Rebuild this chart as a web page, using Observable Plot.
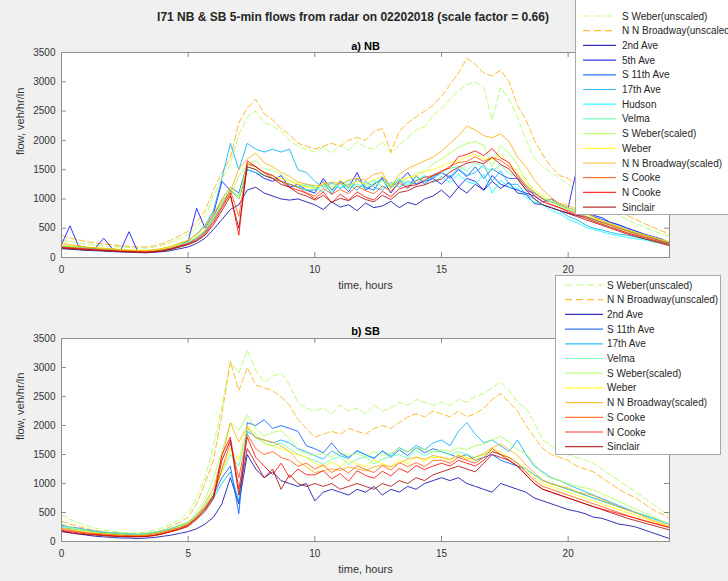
<!DOCTYPE html>
<html>
<head>
<meta charset="utf-8">
<script src="https://cdn.jsdelivr.net/npm/d3@7"></script>
<script src="https://cdn.jsdelivr.net/npm/@observablehq/plot@0.6"></script>
<style>
  html, body { margin: 0; padding: 0; background: #f0f0f0; }
  #fig { position: relative; width: 728px; height: 581px; background: #f0f0f0; overflow: hidden;
         font-family: "Liberation Sans", Arial, Helvetica, sans-serif; color: #262626; }
  #title { position: absolute; left: 0; width: 706px; top: 9px; text-align: center;
           font-weight: bold; font-size: 12px; line-height: 16px; }
</style>
</head>
<body>
<div id="fig">
  <div id="title">I71 NB &amp; SB 5-min flows from radar on 02202018 (scale factor = 0.66)</div>
</div>
<script>
// Radar flows (veh/hr/ln), one value every 20 minutes from 0 h to 24 h.
const scaleFactor = 0.66;
const hours = d3.range(73).map(i => i / 3);
const xTicks = [0, 5, 10, 15, 20];
const yTicks = [0, 500, 1000, 1500, 2000, 2500, 3000, 3500];

// ---- Northbound ----
const nbSWeberRaw = [300,270,250,230,210,200,190,180,170,160,160,180,210,260,320, 400,520,700,1050,1350,1600, 2100, 2400,2500,2300,2250,2150,2000,1900,1850, 1800,1880,1780,1920,1830,1980,1880,1850,1980,1780,1920,2050,2180,2230,2420, 2550,2700,2850,2950,3000,2900,2350,2900,2700,2400,2000,1700, 1550,1450,1350,1250,1150,1050,950,880,800,720,650,580,520,460,410,360];
const nbNNBroadwayRaw = [380,330,300,270,250,230,220,200,190,180,180,200,240,300,370, 450,600,800,1150,1450,1700, 2300, 2550,2700,2450,2350,2200,2100,1950,1900, 1850,1900,1950,1900,2000,2050,2000,2150,2200,1800,2150,2300,2400,2500,2600, 2750,2950,3150,3400,3300,3150,3100,3200,3000,2600,2350,2000, 1750,1550,1400,1350,1250,1150,1050,950,880,800,720,650,580,520,460,400];
const nb2ndAve = [150,140,130,120,115,110,100,95,90,85,80,90,100,120,150, 180,240,330,480,650,820, 900, 1150,1200,1100,1050,1000,980,1000,950, 900,820,950,860,900,800,930,850,880,960,850,940,900,1000,1050, 1150,1020,1200,1100,1250,1150,1300,1180,1280,1100,1080,920, 900,850,800,760,720,700,650,600,560,500,460,420,380,330,280,230];
const nb5thAve = [220,540,200,170,160,330,150,120,440,110,100,120,110,150,200, 280,840,500,750,1300,1150, 1000, 1500,1450,1350,1300,1400,1200,1250,1150, 1100,1350,1150,1300,1200,1450,1150,1250,1350,1100,1300,1450,1250,1300,1350, 1250,1400,1200,1350,1300,1150,1400,1250,1200,1150,1100,1050, 950,1000,900,850,1500,800,720,680,600,560,500,450,400,360,320,260];
const nbS11thAve = [200,180,170,160,150,140,130,125,115,110,105,115,130,160,200, 250,330,450,700,1000,1200, 1100, 1600,1550,1450,1400,1300,1250,1200,1150, 1150,1300,1080,1280,1120,1350,1200,1150,1380,1200,1320,1180,1400,1250,1380, 1450,1350,1500,1380,1550,1350,1520,1420,1350,1350,1150,1100, 1000,950,900,850,800,760,700,650,600,550,500,450,400,350,300,250];
const nb17thAve = [180,170,160,150,140,130,120,110,105,100,100,110,130,170,220, 280,400,550,800,1350,1950, 1500, 1950,1850,1800,1850,1800,1850,1500,1450, 1300,1200,1280,1180,1250,1150,1300,1200,1150,1280,1200,1300,1250,1380,1350, 1450,1380,1520,1400,1450,1580,1300,1480,1250,1250,1080,1000, 900,850,800,700,650,560,500,470,430,400,380,350,320,290,260,230];
const nbHudson = [170,160,150,140,130,125,115,110,100,95,95,100,115,140,180, 230,300,420,650,900,1150, 1000, 1500,1450,1400,1350,1300,1250,1200,1250, 1200,1120,1280,1180,1320,1200,1250,1320,1200,1250,1350,1220,1320,1400,1280, 1380,1280,1420,1300,1250,1420,1100,1320,1200,1180,1020,950, 900,800,750,650,600,520,480,440,400,370,340,320,300,270,250,220];
const nbVelma = [200,190,180,170,160,150,140,130,120,115,110,120,140,170,210, 260,340,460,680,950,1150, 1050, 1550,1500,1400,1350,1300,1250,1200,1150, 1150,1230,1120,1280,1180,1260,1170,1280,1320,1220,1330,1240,1380,1290,1420, 1450,1520,1560,1480,1620,1530,1480,1580,1430,1380,1220,1120, 1000,950,880,820,780,720,660,600,550,500,460,420,380,340,300,260];
const nbWeber = [220,200,190,180,170,160,150,140,130,125,120,130,150,190,240, 300,380,520,750,1000,1200, 1000, 1600,1550,1450,1400,1350,1300,1250,1200, 1180,1280,1200,1330,1220,1310,1250,1330,1380,1240,1320,1370,1390,1470,1500, 1560,1620,1650,1720,1760,1690,1670,1760,1600,1470,1300,1160, 1050,980,900,850,800,750,680,620,570,520,470,430,390,350,310,270];
const nbSCooke = [180,170,160,150,140,130,125,115,110,100,100,110,130,160,200, 240,310,430,640,880,1150, 700, 1600,1550,1450,1350,1300,1250,1200,1100, 1050,1180,1080,1160,1090,1220,1140,1090,1220,1130,1270,1190,1310,1370,1400, 1460,1560,1620,1640,1720,1640,1710,1660,1550,1420,1240,1100, 1000,900,850,800,750,700,650,600,550,500,450,400,360,320,280,240];
const nbNCooke = [170,160,150,140,130,120,115,105,100,95,90,100,115,145,190, 230,290,400,600,850,1100, 380, 1650,1550,1450,1400,1300,1200,1150,1100, 1000,1120,930,1080,980,1120,1030,980,1130,1040,1170,1220,1240,1320,1400, 1480,1530,1720,1760,1820,1740,1860,1700,1620,1380,1200,1060, 950,900,850,780,720,680,620,570,520,470,420,380,340,300,260,220];
const nbSinclair = [160,150,140,130,125,115,110,100,95,90,85,95,110,140,180, 220,280,380,560,800,1050, 500, 1550,1500,1400,1350,1250,1200,1100,1050, 980,1060,940,1010,970,1060,990,950,1060,990,1110,1140,1210,1240,1300, 1340,1460,1540,1610,1640,1600,1710,1590,1510,1340,1160,1000, 900,850,800,750,700,650,600,550,500,450,400,360,320,280,240,200];

// ---- Southbound ----
const sbSWeberRaw = [460,380,320,270,230,200,180,160,150,150,160,190,240,300,380, 500,750,1100,1650,2350,3100, 2900, 3300,2950,2750,2850,2900,2700,2400,2300, 2250,2300,2200,2350,2250,2300,2200,2350,2250,2300,2400,2350,2450,2400,2350, 2400,2350,2450,2400,2500,2550,2650,2750,2600,2400,2300,2050, 1750,1650,1600,1500,1450,1400,1350,1250,1150,1050,950,850,750,650,550,450];
const sbNNBroadwayRaw = [350,300,260,220,190,170,150,140,130,130,140,160,200,260,330, 420,650,1000,1400,2200,3100, 2600, 3000,2700,2650,2600,2500,2350,2100,1950, 1800,1850,1900,1850,1950,1900,1850,1950,2000,1950,2050,2150,2200,2150,2250, 2200,2150,2250,2150,2200,2300,2450,2550,2400,2250,2000,1800, 1600,1500,1450,1400,1300,1250,1200,1100,1000,900,820,750,650,550,480,400];
const sb2ndAve = [180,150,130,110,90,80,70,60,60,50,60,70,90,110,140, 170,220,300,420,650,1100, 650, 1500,1250,1100,1200,1050,1000,950,1000, 700,850,900,850,800,900,850,950,800,900,850,950,900,1000,1050, 1100,1050,1100,1000,950,900,850,1000,950,900,850,750, 700,650,600,550,520,480,420,400,350,300,280,250,200,150,100,50];
const sbS11thAve = [280,250,230,200,180,160,150,140,130,120,130,150,180,220,270, 320,450,600,800,1100,1300, 480, 2050,2000,2100,1950,2000,1950,1900,1650, 1600,1530,1700,1520,1450,1560,1500,1430,1560,1450,1580,1480,1620,1530,1600, 1550,1500,1450,1500,1400,1450,1500,1400,1350,1300,1250,1150, 1050,1000,950,900,850,800,750,700,650,600,550,500,450,400,350,300];
const sb17thAve = [240,220,200,180,160,150,140,130,120,120,130,150,180,210,250, 300,400,550,750,1000,1200, 700, 1900,1800,1750,1700,1750,1700,1600,1550, 1480,1420,1560,1480,1430,1570,1490,1440,1560,1480,1620,1540,1660,1580,1700, 1750,1650,1900,2050,1850,1700,1750,1650,1550,1750,1500,1300, 1200,1100,1050,980,920,860,800,740,680,620,560,500,450,400,350,300];
const sbVelma = [260,240,220,200,180,160,150,140,130,130,140,160,190,230,280, 340,460,620,850,1200,1500, 1300, 1950,1800,1700,1650,1700,1600,1500,1450, 1400,1330,1420,1460,1330,1420,1460,1340,1420,1470,1500,1430,1570,1480,1550, 1550,1500,1550,1500,1450,1500,1550,1500,1450,1350,1250,1150, 1050,1000,950,900,850,800,750,700,650,600,550,500,450,400,350,300];
const sbWeber = [230,210,190,170,150,140,130,120,110,110,120,140,170,210,260, 320,440,600,820,1200,1600, 1400, 2000,1850,1700,1650,1600,1550,1500,1450, 1350,1280,1370,1290,1410,1340,1290,1410,1340,1290,1410,1340,1460,1390,1450, 1450,1400,1500,1450,1400,1500,1600,1550,1450,1350,1250,1100, 1000,950,900,850,800,750,700,650,600,550,500,450,400,350,300,250];
const sbSCooke = [210,190,170,150,140,130,120,110,100,100,110,130,160,200,240, 300,420,580,800,1250,1700, 1100, 1850,1600,1500,1550,1450,1400,1300,1350, 1250,1320,1190,1270,1180,1310,1240,1190,1310,1230,1360,1290,1360,1290,1400, 1400,1350,1450,1400,1350,1450,1600,1500,1450,1350,1200,1050, 950,900,850,800,750,700,650,600,550,500,450,400,360,320,280,240];
const sbNCooke = [190,170,150,130,120,110,100,90,90,85,90,110,140,180,220, 280,400,560,780,1500,1800, 900, 1800,1450,1300,1150,1350,1100,1250,1150, 1150,1220,1080,1170,1040,1220,1140,1090,1210,1130,1260,1190,1310,1240,1300, 1350,1300,1400,1350,1300,1400,1550,1500,1400,1300,1150,1000, 900,850,800,750,700,650,600,560,520,480,440,400,360,320,280,240];
const sbSinclair = [170,150,130,120,110,100,90,85,80,80,85,100,130,170,210, 260,380,520,740,1400,1750, 800, 1600,1350,1100,1250,900,1150,1000,950, 1000,950,1000,900,950,1000,950,900,1000,950,1050,1000,1100,1050,1150, 1200,1250,1300,1250,1200,1350,1500,1450,1400,1300,1150,1000, 900,850,800,750,700,650,600,550,500,450,400,360,320,280,240,200];

// Station colours (jet colormap, 12 steps)
const stationColors = {
  "2nd Ave": "#0000aa", "5th Ave": "#0000ff", "S 11th Ave": "#0055ff", "17th Ave": "#00aaff",
  "Hudson": "#00ffff", "Velma": "#55ffaa", "S Weber": "#aaff55", "Weber": "#ffff00",
  "N N Broadway": "#ffaa00", "S Cooke": "#ff5500", "N Cooke": "#ff0000", "Sinclair": "#aa0000"
};

const scale = arr => arr.map(v => v * scaleFactor);
const entry = (name, values, color, dashed = false) => ({name, values, color, dashed});

const nbSeries = [
  entry("S Weber(unscaled)", nbSWeberRaw, stationColors["S Weber"], true),
  entry("N N Broadway(unscaled)", nbNNBroadwayRaw, stationColors["N N Broadway"], true),
  entry("2nd Ave", nb2ndAve, stationColors["2nd Ave"]),
  entry("5th Ave", nb5thAve, stationColors["5th Ave"]),
  entry("S 11th Ave", nbS11thAve, stationColors["S 11th Ave"]),
  entry("17th Ave", nb17thAve, stationColors["17th Ave"]),
  entry("Hudson", nbHudson, stationColors["Hudson"]),
  entry("Velma", nbVelma, stationColors["Velma"]),
  entry("S Weber(scaled)", scale(nbSWeberRaw), stationColors["S Weber"]),
  entry("Weber", nbWeber, stationColors["Weber"]),
  entry("N N Broadway(scaled)", scale(nbNNBroadwayRaw), stationColors["N N Broadway"]),
  entry("S Cooke", nbSCooke, stationColors["S Cooke"]),
  entry("N Cooke", nbNCooke, stationColors["N Cooke"]),
  entry("Sinclair", nbSinclair, stationColors["Sinclair"])
];

const sbSeries = [
  entry("S Weber(unscaled)", sbSWeberRaw, stationColors["S Weber"], true),
  entry("N N Broadway(unscaled)", sbNNBroadwayRaw, stationColors["N N Broadway"], true),
  entry("2nd Ave", sb2ndAve, stationColors["2nd Ave"]),
  entry("S 11th Ave", sbS11thAve, stationColors["S 11th Ave"]),
  entry("17th Ave", sb17thAve, stationColors["17th Ave"]),
  entry("Velma", sbVelma, stationColors["Velma"]),
  entry("S Weber(scaled)", scale(sbSWeberRaw), stationColors["S Weber"]),
  entry("Weber", sbWeber, stationColors["Weber"]),
  entry("N N Broadway(scaled)", scale(sbNNBroadwayRaw), stationColors["N N Broadway"]),
  entry("S Cooke", sbSCooke, stationColors["S Cooke"]),
  entry("N Cooke", sbNCooke, stationColors["N Cooke"]),
  entry("Sinclair", sbSinclair, stationColors["Sinclair"])
];

const fig = document.getElementById("fig");
const axisGray = "#8c8c8c";
const textGray = "#333333";
const fontFamily = "'Liberation Sans', Arial, Helvetica, sans-serif";
const dash = "6,3";
const lineOpacity = 0.8;

function panel({series, title, top, height, marginTop, marginBottom, titleDy}) {
  const marginLeft = 61, marginRight = 59, width = 728;
  const fw = width - marginLeft - marginRight;
  const fh = height - marginTop - marginBottom;
  const svg = Plot.plot({
    width, height, marginLeft, marginRight, marginTop, marginBottom,
    x: {domain: [0, 24]},
    y: {domain: [0, 3500]},
    style: {background: "none", fontFamily, fontSize: "10px", color: textGray, overflow: "visible"},
    marks: [
      Plot.frame({fill: "white", stroke: null}),
      ...series.map(s => Plot.line(s.values.map((v, i) => [hours[i], v]), {
        stroke: s.color, strokeWidth: 1, strokeOpacity: lineOpacity,
        strokeDasharray: s.dashed ? dash : null
      })),
      Plot.frame({stroke: axisGray}),
      Plot.tickX(xTicks, {x: d => d, insetTop: fh - 5, stroke: axisGray}),
      Plot.tickX(xTicks, {x: d => d, insetBottom: fh - 5, stroke: axisGray}),
      Plot.tickY(yTicks, {y: d => d, insetRight: fw - 5, stroke: axisGray}),
      Plot.tickY(yTicks, {y: d => d, insetLeft: fw - 5, stroke: axisGray}),
      Plot.axisX(xTicks, {tickSize: 0, tickPadding: 8, label: null, fill: textGray, tickFormat: d3.format("d")}),
      Plot.axisY(yTicks, {tickSize: 0, tickPadding: 6, label: null, fill: textGray, tickFormat: d3.format("d")}),
      Plot.text(["time, hours"], {text: d => d, frameAnchor: "bottom", dy: 31, fontSize: 11, fill: textGray}),
      Plot.text(["flow, veh/hr/ln"], {text: d => d, frameAnchor: "left", dx: -41, rotate: -90, fontSize: 11, fill: textGray}),
      Plot.text([title], {text: d => d, frameAnchor: "top", dy: titleDy, fontSize: 11, fontWeight: "bold", fill: "#000"})
    ]
  });
  svg.style.position = "absolute";
  svg.style.left = "0px";
  svg.style.top = top + "px";
  fig.appendChild(svg);
}

function legend(series, {left, top, width, height, y0, step, x0, x1, xt}) {
  const svg = d3.create("svg")
    .attr("width", width).attr("height", height)
    .style("position", "absolute").style("left", left + "px").style("top", top + "px")
    .style("overflow", "hidden");
  svg.append("rect")
    .attr("x", 0.5).attr("y", 0.5).attr("width", width - 1).attr("height", height - 1)
    .attr("fill", "white").attr("stroke", "#a8a8a8");
  series.forEach((s, k) => {
    const y = y0 + k * step;
    svg.append("line")
      .attr("x1", x0).attr("x2", x1).attr("y1", y).attr("y2", y)
      .attr("stroke", s.color).attr("stroke-width", 1.2).attr("stroke-opacity", lineOpacity)
      .attr("stroke-dasharray", s.dashed ? "7,4" : null);
    svg.append("text")
      .attr("x", xt).attr("y", y).attr("dy", "0.35em")
      .attr("font-family", fontFamily).attr("font-size", 10).attr("fill", "#262626")
      .text(s.name);
  });
  fig.appendChild(svg.node());
}

panel({series: nbSeries, title: "a) NB", top: 0, height: 300, marginTop: 52, marginBottom: 43, titleDy: -10});
panel({series: sbSeries, title: "b) SB", top: 300, height: 281, marginTop: 38, marginBottom: 40, titleDy: -11});

legend(nbSeries, {left: 575, top: -1, width: 170, height: 216, y0: 17, step: 14.7, x0: 8, x1: 41, xt: 47});
legend(sbSeries, {left: 555, top: 275, width: 166, height: 180, y0: 10, step: 14.7, x0: 10, x1: 48, xt: 52});
</script>
</body>
</html>
